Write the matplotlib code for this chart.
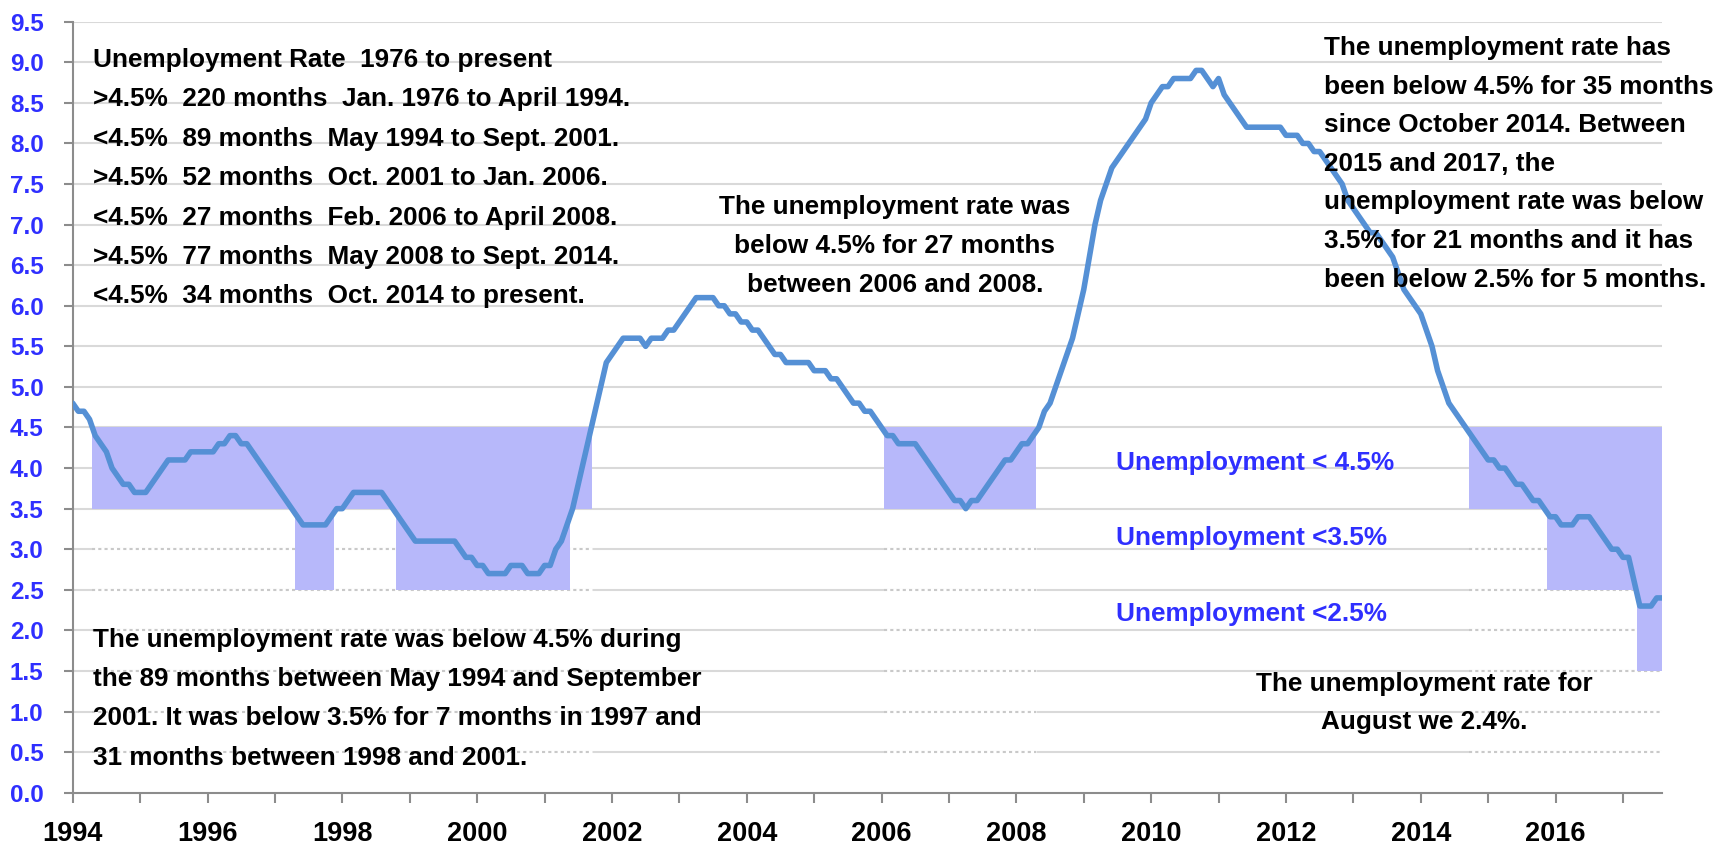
import matplotlib
matplotlib.use("Agg")
import matplotlib.pyplot as plt
from matplotlib.ticker import FixedLocator, FuncFormatter
import numpy as np

# ---------------------------------------------------------------- data
start_year = 1994

# monthly unemployment rate (%), Jan 1994 - Aug 2017
unemployment_rate = [
    4.8, 4.7, 4.7, 4.6, 4.4, 4.3, 4.2, 4.0, 3.9, 3.8, 3.8, 3.7,   # 1994
    3.7, 3.7, 3.8, 3.9, 4.0, 4.1, 4.1, 4.1, 4.1, 4.2, 4.2, 4.2,   # 1995
    4.2, 4.2, 4.3, 4.3, 4.4, 4.4, 4.3, 4.3, 4.2, 4.1, 4.0, 3.9,   # 1996
    3.8, 3.7, 3.6, 3.5, 3.4, 3.3, 3.3, 3.3, 3.3, 3.3, 3.4, 3.5,   # 1997
    3.5, 3.6, 3.7, 3.7, 3.7, 3.7, 3.7, 3.7, 3.6, 3.5, 3.4, 3.3,   # 1998
    3.2, 3.1, 3.1, 3.1, 3.1, 3.1, 3.1, 3.1, 3.1, 3.0, 2.9, 2.9,   # 1999
    2.8, 2.8, 2.7, 2.7, 2.7, 2.7, 2.8, 2.8, 2.8, 2.7, 2.7, 2.7,   # 2000
    2.8, 2.8, 3.0, 3.1, 3.3, 3.5, 3.8, 4.1, 4.4, 4.7, 5.0, 5.3,   # 2001
    5.4, 5.5, 5.6, 5.6, 5.6, 5.6, 5.5, 5.6, 5.6, 5.6, 5.7, 5.7,   # 2002
    5.8, 5.9, 6.0, 6.1, 6.1, 6.1, 6.1, 6.0, 6.0, 5.9, 5.9, 5.8,   # 2003
    5.8, 5.7, 5.7, 5.6, 5.5, 5.4, 5.4, 5.3, 5.3, 5.3, 5.3, 5.3,   # 2004
    5.2, 5.2, 5.2, 5.1, 5.1, 5.0, 4.9, 4.8, 4.8, 4.7, 4.7, 4.6,   # 2005
    4.5, 4.4, 4.4, 4.3, 4.3, 4.3, 4.3, 4.2, 4.1, 4.0, 3.9, 3.8,   # 2006
    3.7, 3.6, 3.6, 3.5, 3.6, 3.6, 3.7, 3.8, 3.9, 4.0, 4.1, 4.1,   # 2007
    4.2, 4.3, 4.3, 4.4, 4.5, 4.7, 4.8, 5.0, 5.2, 5.4, 5.6, 5.9,   # 2008
    6.2, 6.6, 7.0, 7.3, 7.5, 7.7, 7.8, 7.9, 8.0, 8.1, 8.2, 8.3,   # 2009
    8.5, 8.6, 8.7, 8.7, 8.8, 8.8, 8.8, 8.8, 8.9, 8.9, 8.8, 8.7,   # 2010
    8.8, 8.6, 8.5, 8.4, 8.3, 8.2, 8.2, 8.2, 8.2, 8.2, 8.2, 8.2,   # 2011
    8.1, 8.1, 8.1, 8.0, 8.0, 7.9, 7.9, 7.8, 7.7, 7.6, 7.5, 7.3,   # 2012
    7.2, 7.1, 7.0, 6.9, 6.9, 6.8, 6.7, 6.6, 6.4, 6.2, 6.1, 6.0,   # 2013
    5.9, 5.7, 5.5, 5.2, 5.0, 4.8, 4.7, 4.6, 4.5, 4.4, 4.3, 4.2,   # 2014
    4.1, 4.1, 4.0, 4.0, 3.9, 3.8, 3.8, 3.7, 3.6, 3.6, 3.5, 3.4,   # 2015
    3.4, 3.3, 3.3, 3.3, 3.4, 3.4, 3.4, 3.3, 3.2, 3.1, 3.0, 3.0,   # 2016
    2.9, 2.9, 2.6, 2.3, 2.3, 2.3, 2.4, 2.4,                       # 2017
]

# stretches of months below each threshold (first month, last month)
below_45 = [("1994-05", "2001-09"), ("2006-02", "2008-04"), ("2014-10", "2017-08")]
below_35 = [("1997-05", "1997-11"), ("1998-11", "2001-05"), ("2015-12", "2017-08")]
below_25 = [("2017-04", "2017-08")]
band_45 = (3.5, 4.5)
band_35 = (2.5, 3.5)
band_25 = (1.5, 2.5)

year_ticks = list(range(1994, 2018))
y_ticks = [i * 0.5 for i in range(20)]

notes_top_left = [
    "Unemployment Rate  1976 to present",
    ">4.5%  220 months  Jan. 1976 to April 1994.",
    "<4.5%  89 months  May 1994 to Sept. 2001.",
    ">4.5%  52 months  Oct. 2001 to Jan. 2006.",
    "<4.5%  27 months  Feb. 2006 to April 2008.",
    ">4.5%  77 months  May 2008 to Sept. 2014.",
    "<4.5%  34 months  Oct. 2014 to present.",
]
notes_middle = [
    "The unemployment rate was",
    "below 4.5% for 27 months",
    "between 2006 and 2008.",
]
notes_top_right = [
    "The unemployment rate has",
    "been below 4.5% for 35 months",
    "since October 2014. Between",
    "2015 and 2017, the",
    "unemployment rate was below",
    "3.5% for 21 months and it has",
    "been below 2.5% for 5 months.",
]
notes_bottom_left = [
    "The unemployment rate was below 4.5% during",
    "the 89 months between May 1994 and September",
    "2001. It was below 3.5% for 7 months in 1997 and",
    "31 months between 1998 and 2001.",
]
notes_bottom_right = [
    "The unemployment rate for",
    "August we 2.4%.",
]
band_labels = ["Unemployment < 4.5%", "Unemployment <3.5%", "Unemployment <2.5%"]

# ---------------------------------------------------------------- style
plt.rcParams["font.family"] = ["Liberation Sans", "DejaVu Sans"]
plt.rcParams["font.weight"] = "bold"

LINE_C = "#5590D5"
BOX_C = "#B7B8FA"
BLUE_T = "#2F2FFF"
GRID_C = "#D9D9D9"
SPINE_C = "#8C8C8C"
TEXT_SIZE = 18.8

W, H = 1732, 848
fig = plt.figure(figsize=(W / 100, H / 100), dpi=100)
ax = fig.add_axes([72.7 / W, 1 - 792.7 / H, (1662.3 - 72.7) / W, (792.7 - 21.7) / H])

months = np.arange(len(unemployment_rate))
x = start_year + months / 12.0
x_end = x[-1]


def month_pos(s):
    yy, mm = s.split("-")
    return int(yy) + (int(mm) - 1) / 12.0


def spans(periods):
    out = []
    for a, b in periods:
        lo = max(month_pos(a) - 0.5 / 12, start_year)
        hi = min(month_pos(b) + 0.5 / 12, x_end)
        out.append((lo, hi))
    return out


# gridlines: solid, turning dotted beneath the shaded stretches
for lvl in y_ticks[1:]:
    ax.plot([start_year, x_end], [lvl, lvl], color=GRID_C, lw=1.5, zorder=0.5,
            solid_capstyle="butt")
    if lvl < band_45[0]:
        for lo, hi in spans(below_45):
            ax.plot([lo, hi], [lvl, lvl], color="white", lw=2.2, zorder=0.6,
                    solid_capstyle="butt")
            ax.plot([lo, hi], [lvl, lvl], color="#C9C9C9", lw=1.5, zorder=0.7,
                    linestyle=(0, (1.5, 1.5)))

# shaded bands
for periods, (b0, b1) in ((below_45, band_45), (below_35, band_35), (below_25, band_25)):
    for lo, hi in spans(periods):
        ax.fill_between([lo, hi], b0, b1, color=BOX_C, lw=0, zorder=1)

ax.plot(x, unemployment_rate, color=LINE_C, lw=4.0, zorder=3,
        solid_joinstyle="round", solid_capstyle="round")

ax.set_xlim(start_year, x_end)
ax.set_ylim(0, 9.5)

ax.xaxis.set_major_locator(FixedLocator(year_ticks))
ax.xaxis.set_major_formatter(FuncFormatter(lambda v, p: f"{int(round(v))}" if int(round(v)) % 2 == 0 else ""))
ax.yaxis.set_major_locator(FixedLocator(y_ticks))
ax.yaxis.set_major_formatter(FuncFormatter(lambda v, p: f"{v:.1f}"))

for s in ("top", "right"):
    ax.spines[s].set_visible(False)
for s in ("left", "bottom"):
    ax.spines[s].set_color(SPINE_C)
    ax.spines[s].set_linewidth(1.5)
ax.tick_params(axis="x", direction="out", length=7.5, width=1.5, color=SPINE_C,
               labelsize=19.5, pad=13, labelcolor="black")
ax.tick_params(axis="y", direction="out", length=6.5, width=1.5, color=SPINE_C,
               labelsize=17.5, pad=14.5, labelcolor=BLUE_T)
for lab in ax.get_xticklabels() + ax.get_yticklabels():
    lab.set_fontweight("bold")


def px_text(px, py, s, ha="left", color="black", size=TEXT_SIZE):
    fig.text(px / W, 1 - py / H, s, ha=ha, va="center", color=color,
             fontsize=size, fontweight="bold", zorder=5)


for k, s in enumerate(notes_top_left):
    px_text(93, 60 + 39.4 * k, s)
for k, s in enumerate(notes_middle):
    px_text(895, 207 + 38.8 * k, s, ha="center")
for k, s in enumerate(notes_top_right):
    px_text(1324, 48 + 38.6 * k, s)
for k, s in enumerate(notes_bottom_left):
    px_text(93, 640 + 39.2 * k, s)
for k, s in enumerate(notes_bottom_right):
    px_text(1424, 684 + 38.2 * k, s, ha="center")
for k, s in enumerate(band_labels):
    px_text(1116, 463 + 75.5 * k, s, color=BLUE_T)

fig.savefig("out.png", dpi=100, facecolor="white")
